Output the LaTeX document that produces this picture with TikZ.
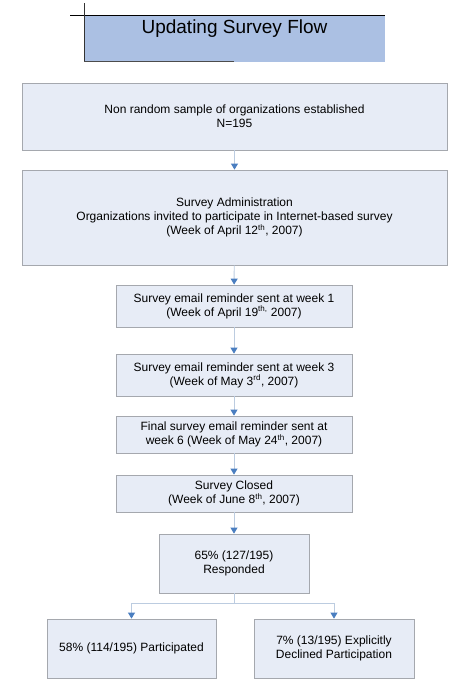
\documentclass[tikz,border=0pt]{standalone}
\usepackage{fontspec}
\setmainfont{Liberation Sans}
\usetikzlibrary{arrows.meta}

\definecolor{boxfill}{HTML}{E7ECF6}
\definecolor{boxline}{HTML}{A5A8AE}
\definecolor{titlefill}{HTML}{ABC0E3}
\definecolor{linkline}{HTML}{BCCCE0}
\definecolor{tipblue}{HTML}{4A7EC0}

\tikzset{
  stage/.style={draw=boxline, fill=boxfill, line width=0.8pt, align=center,
    inner sep=2pt, font=\fontsize{12}{14}\selectfont},
  link/.style={draw=linkline, line width=0.9pt,
    -{Triangle[width=7pt,length=6pt,color=tipblue]}}
}

\begin{document}
\begin{tikzpicture}[x=1pt,y=-1pt]
\useasboundingbox (0,0) rectangle (469,681);

% Draw the title
\fill[titlefill] (84,15) rectangle (385,62);
\draw[line width=0.8pt] (70,15) -- (385,15);
\draw[line width=0.9pt,black!80] (84,3) -- (84,62);
\draw[line width=1pt,black!70] (84,61.5) -- (234,61.5);
\node[anchor=base,font=\fontsize{19}{22}\selectfont] (title) at (234.5,33) {Updating Survey Flow};

%% Draw the stages
\node[stage,minimum width=425pt,minimum height=67pt] (sample) at (234.5,116.5)
  {Non random sample of organizations established\\N=195};
\node[stage,minimum width=425pt,minimum height=95pt] (admin) at (234.5,217.5)
  {Survey Administration\\Organizations invited to participate in Internet-based survey\\(Week of April 12\textsuperscript{th}, 2007)};
\node[stage,minimum width=236pt,minimum height=42pt] (week1) at (234,306)
  {Survey email reminder sent at week 1\\(Week of April 19\textsuperscript{th,} 2007)};
\node[stage,minimum width=236pt,minimum height=42pt] (week3) at (234,375)
  {Survey email reminder sent at week 3\\(Week of May 3\textsuperscript{rd}, 2007)};
\node[stage,minimum width=236pt,minimum height=37pt] (week6) at (234,434.5)
  {Final survey email reminder sent at\\week 6 (Week of May 24\textsuperscript{th}, 2007)};
\node[stage,minimum width=236pt,minimum height=37pt] (closed) at (234,493.5)
  {Survey Closed\\(Week of June 8\textsuperscript{th}, 2007)};
\node[stage,minimum width=150pt,minimum height=59pt] (resp) at (234,563.5)
  {65\% (127/195)\\Responded};
\node[stage,minimum width=169pt,minimum height=59pt] (part) at (131.5,648.5)
  {58\% (114/195) Participated};
\node[stage,minimum width=160pt,minimum height=59pt] (decl) at (334,648.5)
  {7\% (13/195) Explicitly\\Declined Participation};

%% Add the connectors
\draw[link] (sample) -- (admin);
\draw[link] (admin) -- (week1);
\draw[link] (week1) -- (week3);
\draw[link] (week3) -- (week6);
\draw[link] (week6) -- (closed);
\draw[link] (closed) -- (resp);
\draw[link] (resp.south) -- ++(0,10) -| (part.north);
\draw[link] (resp.south) -- ++(0,10) -| (decl.north);

\end{tikzpicture}
\end{document}
